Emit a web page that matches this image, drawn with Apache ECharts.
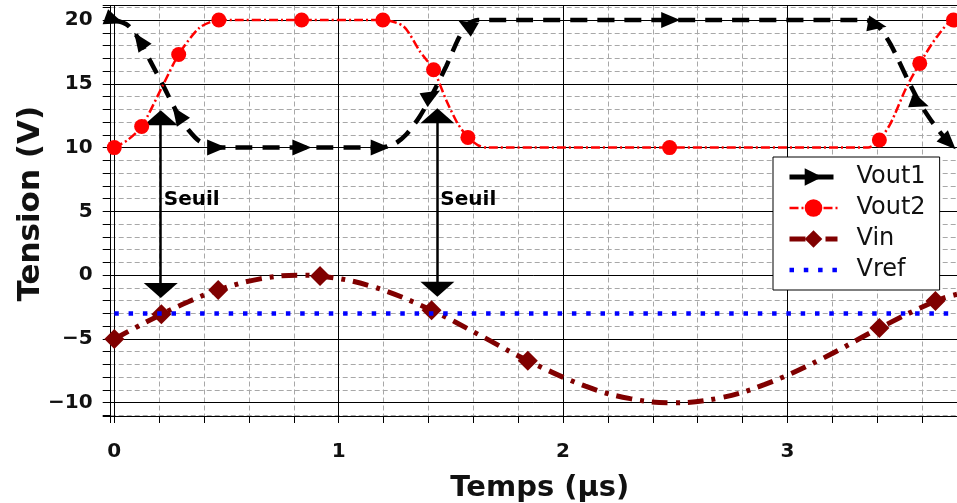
<!DOCTYPE html>
<html><head><meta charset="utf-8">
<script src="https://cdn.jsdelivr.net/npm/echarts@6/dist/echarts.min.js"></script>
<style>html,body{margin:0;padding:0;background:#fff}#c{width:957px;height:503px}</style>
</head><body><div id="c"></div>
<script>
// ---- data ----
const seriesNames = ['Vout1', 'Vout2', 'Vin', 'Vref'];
const vout1 = [[0,20.0],[0.06,19.6],[0.113,18.4],[0.16,16.8],[0.217,14.9],[0.284,12.6],[0.33,11.4],[0.38,10.5],[0.456,10.0],[0.836,10.0],[1.185,10.0],[1.25,10.3],[1.30,11.0],[1.36,12.4],[1.415,14.1],[1.48,16.4],[1.53,18.4],[1.57,19.6],[1.62,20.0],[2.48,20.0],[3.35,20.0],[3.40,19.6],[3.46,18.1],[3.537,15.3],[3.59,13.5],[3.65,11.9],[3.72,10.4],[3.756,10.0]];
const vout1Markers = [0,2,5,8,9,10,14,17,19,21,24,26];
const vout2 = [[0,10.0],[0.06,10.6],[0.122,11.65],[0.217,14.9],[0.287,17.3],[0.38,19.4],[0.466,20.0],[0.835,20.0],[1.197,20.0],[1.29,19.5],[1.36,17.6],[1.423,16.1],[1.48,13.7],[1.53,11.9],[1.576,10.8],[1.62,10.2],[1.66,10.0],[2.475,10.0],[3.36,10.0],[3.41,10.6],[3.46,11.9],[3.53,14.7],[3.59,16.6],[3.667,18.7],[3.74,20.0],[3.756,20.0]];
const vout2Markers = [0,2,4,6,7,8,11,14,17,19,22,24];
const vin = [[0,-5.0],[0.1,-4.06],[0.21,-3.07],[0.33,-2.08],[0.463,-1.16],[0.65,-0.29],[0.83,0.0],[0.917,-0.07],[1.15,-0.89],[1.414,-2.75],[1.62,-4.62],[1.843,-6.7],[2.1,-8.7],[2.3,-9.68],[2.49,-10.0],[2.7,-9.62],[2.9,-8.56],[3.15,-6.59],[3.41,-4.15],[3.66,-2.03],[3.756,-1.5]];
const vinMarkers = [0,2,4,7,9,11,18,19];
const vref = [[0,-3],[3.756,-3]];
const seuilX = [0.207, 1.44];
const seuilLow = [-1.2, -1.1];
const seuilHigh = [12.35, 12.5];
const seuilLabelY = [5.9, 5.9];
const seuilText = 'Seuil';
const majorY = [-10, -5, 0, 5, 10, 15, 20];
const majorX = [0, 1, 2, 3];
const xRange = [-0.016, 3.756];
const yRange = [-11.04, 21.14];
const xTitle = 'Temps (µs)';
const yTitle = 'Tension (V)';

// ---- styles ----
const vout1Rot = [-20, 125, 125, 0, 0, 0, 30, 150, 0, -10, -20, -45];
const FONT = 'DejaVu Sans';
const TXT = '#111';
const triRight = 'path://M0,0 L20,8 L0,16 Z';

function build(points, markerIdx, rots) {
  return points.map((p, i) => {
    const k = markerIdx.indexOf(i);
    if (k < 0) return { value: p, symbol: 'none' };
    const item = { value: p };
    if (rots) item.symbolRotate = rots[k];
    return item;
  });
}
function isInt(v) { return Math.abs(v - Math.round(v)) < 1e-6; }

const chart = echarts.init(document.getElementById('c'), null, { renderer: 'canvas' });
chart.setOption({
  animation: false,
  backgroundColor: '#fff',
  grid: { left: 110.7, right: 0, top: 5.5, bottom: 87, containLabel: false, outerBoundsMode: 'none' },
  xAxis: [{
    type: 'value', min: xRange[0], max: xRange[1], splitNumber: 19,
    name: xTitle, nameLocation: 'middle', nameGap: 58,
    nameTextStyle: { fontFamily: FONT, fontWeight: 'bold', fontSize: 29, color: TXT, padding: [0, 0, 0, 12] },
    axisLine: { show: true, onZero: false, lineStyle: { color: '#000', width: 1 } },
    axisTick: { show: true, length: 7, lineStyle: { color: '#000' } },
    axisLabel: {
      margin: 26, fontFamily: FONT, fontWeight: 'bold', fontSize: 20, color: TXT,
      showMinLabel: true, showMaxLabel: false,
      formatter: v => isInt(v) ? String(Math.round(v)) : ''
    },
    splitLine: { show: true, lineStyle: { color: '#a8a8a8', width: 1, type: [5, 3] } }
  }, {
    type: 'value', position: 'top', min: xRange[0], max: xRange[1],
    axisLine: { show: true, onZero: false, lineStyle: { color: '#000', width: 1 } },
    axisTick: { show: false }, axisLabel: { show: false }, splitLine: { show: false }
  }],
  yAxis: {
    type: 'value', min: yRange[0], max: yRange[1], splitNumber: 32,
    name: yTitle, nameLocation: 'middle', nameGap: 64, nameMoveOverlap: false,
    nameTextStyle: { fontFamily: FONT, fontWeight: 'bold', fontSize: 31, color: TXT, padding: [0, 0, 0, 14] },
    axisLine: { show: true, onZero: false, lineStyle: { color: '#000', width: 1 } },
    axisTick: { show: true, length: 8, lineStyle: { color: '#000' } },
    axisLabel: {
      margin: 18, fontFamily: FONT, fontWeight: 'bold', fontSize: 20, color: TXT,
      formatter: v => {
        if (!isInt(v)) return '';
        const r = Math.round(v);
        if (r % 5 !== 0) return '';
        return r < 0 ? '\u2212' + (-r) : String(r);
      }
    },
    splitLine: { show: true, lineStyle: { color: '#a8a8a8', width: 1, type: [5, 3] } }
  },
  legend: {
    data: [
      { name: seriesNames[0], lineStyle: { width: 5 } },
      { name: seriesNames[1], lineStyle: { width: 2.5 } },
      { name: seriesNames[2], lineStyle: { width: 5 } },
      { name: seriesNames[3], lineStyle: { width: 4.5 }, itemStyle: { opacity: 0 } }
    ],
    orient: 'vertical', left: 773, top: 157,
    backgroundColor: '#fff', borderColor: '#000', borderWidth: 1,
    padding: [8, 14, 8, 14], itemGap: 7, itemWidth: 48, itemHeight: 22,
    textStyle: { fontFamily: FONT, fontSize: 24, color: TXT, padding: [0, 0, 0, 14] }
  },
  series: [
    {
      type: 'scatter', name: '_major', data: [[0, 0]], symbolSize: 0, silent: true,
      markLine: {
        silent: true, z: 1, symbol: ['none', 'none'], animation: false,
        lineStyle: { color: '#000', width: 1, type: 'solid' }, label: { show: false },
        data: majorY.map(v => ({ yAxis: v })).concat(majorX.map(v => ({ xAxis: v })))
      }
    },
    {
      type: 'scatter', name: '_seuil', symbolSize: 0, silent: true, z: 2,
      itemStyle: { opacity: 1 },
      data: seuilX.map((x, i) => [x, seuilLabelY[i]]),
      label: { show: true, position: 'right', distance: 3, formatter: seuilText,
        fontFamily: FONT, fontWeight: 'bold', fontSize: 20, color: '#000', opacity: 1 },
      markLine: {
        silent: true, z: 2, animation: false,
        symbol: ['triangle', 'triangle'], symbolSize: [34, 15],
        itemStyle: { color: '#000' },
        lineStyle: { color: '#000', width: 2.5, type: 'solid' }, label: { show: false },
        data: seuilX.map((x, i) => [{ coord: [x, seuilLow[i]] }, { coord: [x, seuilHigh[i]] }])
      }
    },
    {
      type: 'line', name: seriesNames[0], z: 3, data: build(vout1, vout1Markers, vout1Rot),
      smooth: 0.25, symbol: triRight, symbolSize: [19, 16], symbolRotate: 0, clip: false,
      itemStyle: { color: '#000', borderWidth: 0 },
      lineStyle: { color: '#000', width: 4.5, type: [17, 10] }
    },
    {
      type: 'line', name: seriesNames[1], z: 4, data: build(vout2, vout2Markers),
      smooth: 0.25, symbol: 'circle', symbolSize: 15, clip: false,
      itemStyle: { color: '#ff0000', borderWidth: 0 },
      lineStyle: { color: '#ff0000', width: 2.5, type: [9, 3, 2, 3] }
    },
    {
      type: 'line', name: seriesNames[2], z: 5, data: build(vin, vinMarkers),
      smooth: 0.4, symbol: 'diamond', symbolSize: 20, clip: false,
      itemStyle: { color: '#800000', borderWidth: 0 },
      lineStyle: { color: '#800000', width: 5, type: [16, 8, 4, 8] }
    },
    {
      type: 'line', name: seriesNames[3], z: 6, data: vref, symbol: 'none', showSymbol: false,
      itemStyle: { color: '#0000ff' },
      lineStyle: { color: '#0000ff', width: 4.5, type: [4.5, 9.8], cap: 'butt' }
    }
  ]
});
</script></body></html>
